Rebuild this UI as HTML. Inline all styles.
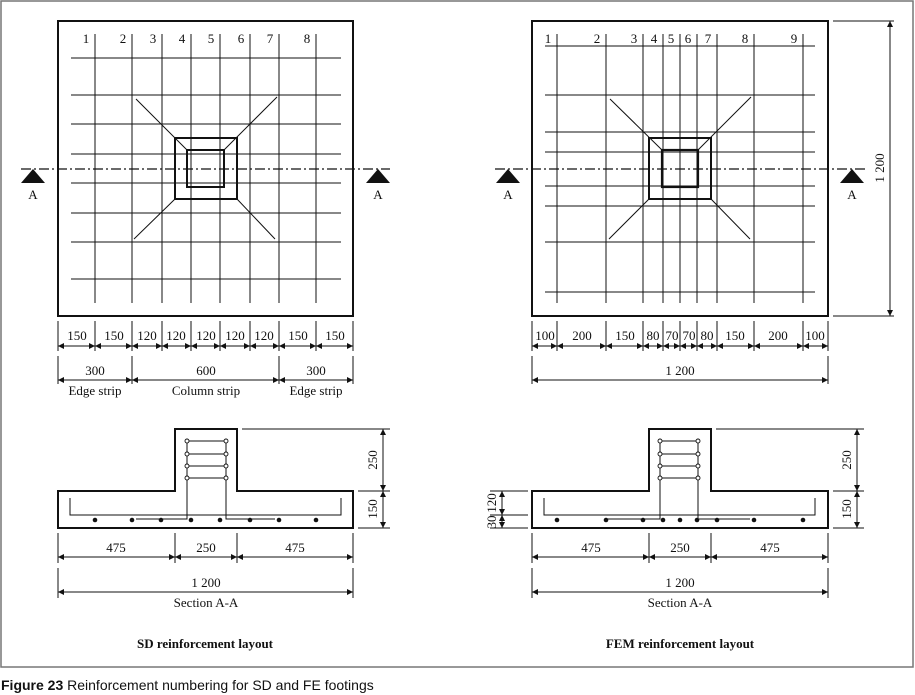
<!DOCTYPE html>
<html><head><meta charset="utf-8"><style>
html,body{margin:0;padding:0;background:#fff}
svg{display:block}
text{font-family:"Liberation Serif",serif;font-size:13px;fill:#111}
.t{text-anchor:middle}
</style></head><body>
<svg width="915" height="695" viewBox="0 0 915 695" xmlns="http://www.w3.org/2000/svg">
<defs>
<marker id="a" markerWidth="7" markerHeight="6" refX="6" refY="3" orient="auto-start-reverse" markerUnits="userSpaceOnUse"><path d="M0,0 L6,3 L0,6 z" fill="#111"/></marker>
</defs>
<rect x="1" y="1" width="912" height="666" fill="none" stroke="#777" stroke-width="1.5"/>
<g stroke="#111" fill="none">
<!-- LEFT PLAN -->
<rect x="58" y="21" width="295" height="295" stroke-width="2"/>
<g stroke-width="1">
<path d="M95 34V303M132 34V303M162 34V303M191 34V303M220 34V303M250 34V303M279 34V303M316 34V303"/>
<path d="M71 58H341M71 95H341M71 124H341M71 154H341M71 183H341M71 213H341M71 242H341M71 279H341"/>
<path d="M136 99L187 150M277 97L224 150M134 239L175 199M275 239L237 199"/>
</g>
<rect x="175" y="138" width="62" height="61" stroke-width="2"/>
<rect x="187" y="150" width="37" height="37" stroke-width="2"/>
<path d="M21 169H390" stroke-width="1.2" stroke-dasharray="10,3,2,3"/>
<!-- RIGHT PLAN -->
<rect x="532" y="21" width="296" height="295" stroke-width="2"/>
<g stroke-width="1">
<path d="M557 34V303M606 34V303M643 34V303M663 34V303M680 34V303M697 34V303M717 34V303M754 34V303M803 34V303"/>
<path d="M545 46H815M545 95H815M545 132H815M545 152H815M545 186H815M545 206H815M545 242H815M545 292H815"/>
<path d="M610 99L662 150M751 97L698 150M609 239L649 199M750 239L711 199"/>
</g>
<rect x="649" y="138" width="62" height="61" stroke-width="2"/>
<rect x="662" y="150" width="36" height="37" stroke-width="2.2"/>
<path d="M495 169H865" stroke-width="1.2" stroke-dasharray="10,3,2,3"/>
<!-- right vertical dim -->
<path d="M833 21H894M833 316H894" stroke-width="1"/>
<line x1="890" y1="21" x2="890" y2="316" stroke-width="1" marker-start="url(#a)" marker-end="url(#a)"/>
<!-- dimension ticks left plan -->
<g stroke-width="1">
<path d="M58 321V351M95 321V351M132 321V351M162 321V351M191 321V351M220 321V351M250 321V351M279 321V351M316 321V351M353 321V351"/>
<path d="M58 356V384M132 356V384M279 356V384M353 356V384"/>
<path d="M532 321V351M557 321V351M606 321V351M643 321V351M663 321V351M680 321V351M697 321V351M717 321V351M754 321V351M803 321V351M828 321V351"/>
<path d="M532 356V384M828 356V384"/>
</g>
<g stroke-width="1" marker-start="url(#a)" marker-end="url(#a)">
<line x1="58" y1="346" x2="95" y2="346"/><line x1="95" y1="346" x2="132" y2="346"/><line x1="132" y1="346" x2="162" y2="346"/><line x1="162" y1="346" x2="191" y2="346"/><line x1="191" y1="346" x2="220" y2="346"/><line x1="220" y1="346" x2="250" y2="346"/><line x1="250" y1="346" x2="279" y2="346"/><line x1="279" y1="346" x2="316" y2="346"/><line x1="316" y1="346" x2="353" y2="346"/>
<line x1="58" y1="380" x2="132" y2="380"/><line x1="132" y1="380" x2="279" y2="380"/><line x1="279" y1="380" x2="353" y2="380"/>
<line x1="532" y1="346" x2="557" y2="346"/><line x1="557" y1="346" x2="606" y2="346"/><line x1="606" y1="346" x2="643" y2="346"/><line x1="643" y1="346" x2="663" y2="346"/><line x1="663" y1="346" x2="680" y2="346"/><line x1="680" y1="346" x2="697" y2="346"/><line x1="697" y1="346" x2="717" y2="346"/><line x1="717" y1="346" x2="754" y2="346"/><line x1="754" y1="346" x2="803" y2="346"/><line x1="803" y1="346" x2="828" y2="346"/>
<line x1="532" y1="380" x2="828" y2="380"/>
</g>
<!-- LEFT SECTION -->
<path d="M58 491H175V429H237V491H353V528H58Z" stroke-width="2"/>
<g stroke-width="1">
<path d="M70 498V515H341V498"/>
<path d="M187 441V519H136M226 441V519H275"/>
<path d="M187 441H226M187 454H226M187 466H226M187 478H226"/>
<path d="M242 429H390M358 491H390M358 528H390"/>
<path d="M58 533V563M175 533V563M237 533V563M353 533V563M58 568V598M353 568V598"/>
</g>
<g fill="#fff" stroke-width="0.9">
<circle cx="187" cy="441" r="2"/><circle cx="187" cy="454" r="2"/><circle cx="187" cy="466" r="2"/><circle cx="187" cy="478" r="2"/>
<circle cx="226" cy="441" r="2"/><circle cx="226" cy="454" r="2"/><circle cx="226" cy="466" r="2"/><circle cx="226" cy="478" r="2"/>
</g>
<g fill="#111" stroke="none">
<circle cx="95" cy="520" r="2.3"/><circle cx="132" cy="520" r="2.3"/><circle cx="161" cy="520" r="2.3"/><circle cx="191" cy="520" r="2.3"/><circle cx="220" cy="520" r="2.3"/><circle cx="250" cy="520" r="2.3"/><circle cx="279" cy="520" r="2.3"/><circle cx="316" cy="520" r="2.3"/>
</g>
<g stroke-width="1" marker-start="url(#a)" marker-end="url(#a)">
<line x1="383" y1="429" x2="383" y2="491"/><line x1="383" y1="491" x2="383" y2="528"/>
<line x1="58" y1="557" x2="175" y2="557"/><line x1="175" y1="557" x2="237" y2="557"/><line x1="237" y1="557" x2="353" y2="557"/>
<line x1="58" y1="592" x2="353" y2="592"/>
</g>
<!-- RIGHT SECTION -->
<path d="M532 491H649V429H711V491H828V528H532Z" stroke-width="2"/>
<g stroke-width="1">
<path d="M544 498V515H815V498"/>
<path d="M660 441V519H606M698 441V519H750"/>
<path d="M660 441H698M660 454H698M660 466H698M660 478H698"/>
<path d="M716 429H864M833 491H864M833 528H864"/>
<path d="M490 491H528M490 515H528M490 528H528"/>
<path d="M532 533V563M649 533V563M711 533V563M828 533V563M532 568V598M828 568V598"/>
</g>
<g fill="#fff" stroke-width="0.9">
<circle cx="660" cy="441" r="2"/><circle cx="660" cy="454" r="2"/><circle cx="660" cy="466" r="2"/><circle cx="660" cy="478" r="2"/>
<circle cx="698" cy="441" r="2"/><circle cx="698" cy="454" r="2"/><circle cx="698" cy="466" r="2"/><circle cx="698" cy="478" r="2"/>
</g>
<g fill="#111" stroke="none">
<circle cx="557" cy="520" r="2.3"/><circle cx="606" cy="520" r="2.3"/><circle cx="643" cy="520" r="2.3"/><circle cx="663" cy="520" r="2.3"/><circle cx="680" cy="520" r="2.3"/><circle cx="697" cy="520" r="2.3"/><circle cx="717" cy="520" r="2.3"/><circle cx="754" cy="520" r="2.3"/><circle cx="803" cy="520" r="2.3"/>
</g>
<g stroke-width="1" marker-start="url(#a)" marker-end="url(#a)">
<line x1="857" y1="429" x2="857" y2="491"/><line x1="857" y1="491" x2="857" y2="528"/>
<line x1="502" y1="491" x2="502" y2="515"/><line x1="502" y1="515" x2="502" y2="528"/>
<line x1="532" y1="557" x2="649" y2="557"/><line x1="649" y1="557" x2="711" y2="557"/><line x1="711" y1="557" x2="828" y2="557"/>
<line x1="532" y1="592" x2="828" y2="592"/>
</g>
</g>
<!-- triangles -->
<g fill="#111">
<path d="M33 169L45 183H21Z"/><path d="M378 169L390 183H366Z"/>
<path d="M508 169L520 183H496Z"/><path d="M852 169L864 183H840Z"/>
</g>
<!-- TEXT -->
<g class="t">
<text x="33" y="199">A</text><text x="378" y="199">A</text>
<text x="508" y="199">A</text><text x="852" y="199">A</text>
<text x="86" y="43">1</text><text x="123" y="43">2</text><text x="153" y="43">3</text><text x="182" y="43">4</text><text x="211" y="43">5</text><text x="241" y="43">6</text><text x="270" y="43">7</text><text x="307" y="43">8</text>
<text x="548" y="43">1</text><text x="597" y="43">2</text><text x="634" y="43">3</text><text x="654" y="43">4</text><text x="671" y="43">5</text><text x="688" y="43">6</text><text x="708" y="43">7</text><text x="745" y="43">8</text><text x="794" y="43">9</text>
<text x="77" y="340">150</text><text x="114" y="340">150</text><text x="147" y="340">120</text><text x="176" y="340">120</text><text x="206" y="340">120</text><text x="235" y="340">120</text><text x="264" y="340">120</text><text x="298" y="340">150</text><text x="335" y="340">150</text>
<text x="95" y="375">300</text><text x="206" y="375">600</text><text x="316" y="375">300</text>
<text x="95" y="395">Edge strip</text><text x="206" y="395">Column strip</text><text x="316" y="395">Edge strip</text>
<text x="545" y="340">100</text><text x="582" y="340">200</text><text x="625" y="340">150</text><text x="653" y="340">80</text><text x="672" y="340">70</text><text x="689" y="340">70</text><text x="707" y="340">80</text><text x="735" y="340">150</text><text x="778" y="340">200</text><text x="815" y="340">100</text>
<text x="680" y="375">1 200</text>
<text x="116" y="552">475</text><text x="206" y="552">250</text><text x="295" y="552">475</text>
<text x="206" y="587">1 200</text><text x="206" y="607">Section A-A</text>
<text x="591" y="552">475</text><text x="680" y="552">250</text><text x="770" y="552">475</text>
<text x="680" y="587">1 200</text><text x="680" y="607">Section A-A</text>
<text x="205" y="648" style="font-weight:bold">SD reinforcement layout</text>
<text x="680" y="648" style="font-weight:bold">FEM reinforcement layout</text>
<text transform="translate(884,168) rotate(-90)">1 200</text>
<text transform="translate(377,460) rotate(-90)">250</text>
<text transform="translate(377,509) rotate(-90)">150</text>
<text transform="translate(851,460) rotate(-90)">250</text>
<text transform="translate(851,509) rotate(-90)">150</text>
<text transform="translate(496,503) rotate(-90)">120</text>
<text transform="translate(496,522) rotate(-90)">30</text>
</g>
<text x="1" y="690" style="font-family:'Liberation Sans',sans-serif;font-size:14px"><tspan font-weight="bold">Figure 23</tspan> Reinforcement numbering for SD and FE footings</text>
</svg>
</body></html>
